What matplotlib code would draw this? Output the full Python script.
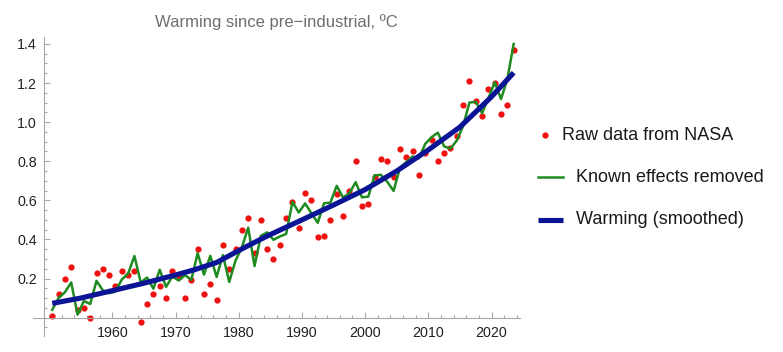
import numpy as np
import matplotlib.pyplot as plt
from matplotlib.lines import Line2D
from matplotlib.ticker import FixedLocator, FormatStrFormatter

plt.rcParams['font.family'] = ['Liberation Sans', 'DejaVu Sans']

# annual values, plotted at mid-year
years = np.arange(1950, 2024)
raw = [0.01, 0.12, 0.20, 0.26, 0.04, 0.05, 0.00, 0.23, 0.25, 0.22,
       0.16, 0.24, 0.22, 0.24, -0.02, 0.07, 0.12, 0.16, 0.10, 0.24,
       0.21, 0.10, 0.19, 0.35, 0.12, 0.17, 0.09, 0.37, 0.25, 0.35,
       0.45, 0.51, 0.33, 0.50, 0.35, 0.30, 0.37, 0.51, 0.59, 0.46,
       0.64, 0.60, 0.41, 0.42, 0.50, 0.63, 0.52, 0.65, 0.80, 0.57,
       0.58, 0.72, 0.81, 0.80, 0.72, 0.86, 0.82, 0.85, 0.73, 0.84,
       0.91, 0.80, 0.84, 0.87, 0.93, 1.09, 1.21, 1.11, 1.03, 1.17,
       1.20, 1.04, 1.09, 1.37]
removed = [0.04, 0.10, 0.13, 0.18, 0.015, 0.085, 0.07, 0.188, 0.14, 0.125,
           0.133, 0.195, 0.225, 0.315, 0.18, 0.205, 0.148, 0.245, 0.157, 0.21,
           0.19, 0.218, 0.193, 0.33, 0.22, 0.316, 0.208, 0.32, 0.183, 0.292,
           0.36, 0.46, 0.264, 0.418, 0.436, 0.398, 0.415, 0.428, 0.592, 0.538,
           0.584, 0.534, 0.485, 0.585, 0.588, 0.674, 0.615, 0.636, 0.693, 0.615,
           0.619, 0.728, 0.73, 0.695, 0.648, 0.766, 0.795, 0.824, 0.815, 0.888,
           0.923, 0.946, 0.876, 0.865, 0.906, 0.98, 1.10, 1.104, 1.046, 1.122,
           1.204, 1.118, 1.22, 1.40]

smooth_x = [1950.5, 1955, 1960, 1965, 1970, 1973, 1976.5, 1980, 1982.5, 1985,
            1990, 1995, 2000, 2005, 2010, 2015, 2020, 2023.5]
smooth = [0.073, 0.10, 0.138, 0.176, 0.218, 0.245, 0.282, 0.343, 0.385, 0.425,
          0.50, 0.576, 0.655, 0.75, 0.858, 0.975, 1.13, 1.253]

labels = ["Raw data from NASA", "Known effects removed", "Warming (smoothed)"]
c_raw, c_green, c_blue = "#f01010", "#1f8a1f", "#0c1496"

W, H = 783, 352
fig = plt.figure(figsize=(W / 100, H / 100), dpi=100)
ax = fig.add_axes([33.3 / W, (H - 336) / H, (520 - 33.3) / W, (336 - 36.7) / H])

x = years + 0.5
ax.plot(x, raw, "o", color=c_raw, ms=4.5, mec="none", zorder=2)
ax.plot(x, removed, color=c_green, lw=1.8, zorder=3)
ax.plot(smooth_x, smooth, color=c_blue, lw=3.7, solid_capstyle="butt",
        solid_joinstyle="round", zorder=4)

ax.set_xlim(1947.5, 2024.5)
ax.set_ylim(-0.094, 1.437)

for s in ["top", "right"]:
    ax.spines[s].set_visible(False)
ax.spines["left"].set_position(("data", 1949.2))
ax.spines["bottom"].set_position(("data", 0))
for s in ["left", "bottom"]:
    ax.spines[s].set_color("#a8a8a8")
    ax.spines[s].set_linewidth(0.8)

ax.xaxis.set_major_locator(FixedLocator(np.arange(1960, 2021, 10)))
ax.xaxis.set_minor_locator(FixedLocator(np.arange(1950, 2025, 2)))
ax.yaxis.set_major_locator(FixedLocator(np.arange(0.2, 1.41, 0.2)))
ax.yaxis.set_minor_locator(FixedLocator(np.arange(-0.05, 1.42, 0.05)))
ax.yaxis.set_major_formatter(FormatStrFormatter("%.1f"))

ax.tick_params(which="both", direction="in", color="#a8a8a8", width=0.8,
               labelsize=10.3, labelcolor="#222222")
ax.tick_params(which="major", length=4.5)
ax.tick_params(which="minor", length=2.5)
ax.tick_params(axis="x", pad=6)
ax.tick_params(axis="y", pad=5)

fig.text(276.5 / W, 1 - 21.7 / H, "Warming since pre\u2212industrial, \u00baC",
         ha="center", va="center", fontsize=12, color="#6e6e6e")

# legend on the right
fs = 13
fig.add_artist(Line2D([545 / W], [1 - 135 / H], marker="o", ms=4.5, mec="none",
                      color=c_raw, transform=fig.transFigure))
fig.text(561.7 / W, 1 - 135 / H, labels[0], va="center", fontsize=fs, color="#1a1a1a")
fig.add_artist(Line2D([538 / W, 563 / W], [1 - 177 / H] * 2, color=c_green, lw=1.8,
                      transform=fig.transFigure))
fig.text(575.7 / W, 1 - 177 / H, labels[1], va="center", fontsize=fs, color="#1a1a1a")
fig.add_artist(Line2D([538 / W, 563 / W], [1 - 220 / H] * 2, color=c_blue, lw=3.7,
                      solid_capstyle="butt", transform=fig.transFigure))
fig.text(575.7 / W, 1 - 220 / H, labels[2], va="center", fontsize=fs, color="#1a1a1a")

fig.savefig("out.png", dpi=100)
